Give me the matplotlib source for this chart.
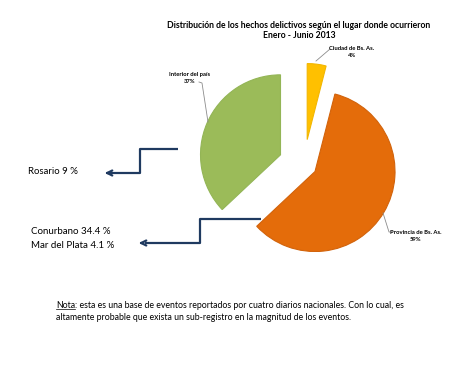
import matplotlib.pyplot as plt

# data
lugares = ['Ciudad de Bs. As.', 'Provincia de Bs. As.', 'Interior del país']
porcentajes = [4, 59, 37]
colores = ['#FFC000', '#E46C0A', '#9BBB59']
bordes = ['#F2B600', '#D2630B', '#93B556']
separacion = [0.32, 0.16, 0.32]

H = 367
R = 80
plt.rcParams['font.family'] = ['Lato', 'DejaVu Sans']

fig = plt.figure(figsize=(4.65, 3.67), dpi=100)
ax = fig.add_axes([0, 0, 1, 1])

# explode in matplotlib is in data units, so scale by the radius
wedges, _ = ax.pie(porcentajes, colors=colores, explode=[s * R for s in separacion],
                   startangle=90, counterclock=False, radius=R, center=(304, H - 165),
                   wedgeprops=dict(linewidth=0.8), frame=True)
for w, b in zip(wedges, bordes):
    w.set_edgecolor(b)
wedges[0].set_radius(R * 0.95)  # small slice looks a bit shorter in the original
ax.set_xlim(0, 465)
ax.set_ylim(0, H)
ax.set_aspect('auto')
ax.axis('off')

# title
ax.text(299, H - 25, 'Distribución de los hechos delictivos según el lugar donde ocurrieron',
        ha='center', va='center', fontsize=6.2, fontweight='bold')
ax.text(299, H - 36, 'Enero - Junio 2013', ha='center', va='center',
        fontsize=6.2, fontweight='bold')

# slice labels with leader lines
etiquetas = [f'{l}\n{p}%' for l, p in zip(lugares, porcentajes)]
pos_txt = [(352, H - 52), (416, H - 236), (190, H - 78)]
lineas = [([316, 330], [H - 61, H - 49]),
          ([383, 389, 392], [H - 213, H - 232, H - 232]),
          ([208, 202, 199], [H - 122, H - 83, H - 82])]
for t, (x, y), (lx, ly) in zip(etiquetas, pos_txt, lineas):
    ax.text(x, y, t, ha='center', va='center', fontsize=4.2, fontweight='bold',
            linespacing=1.5)
    ax.plot(lx, ly, color='#8C8C8C', lw=0.6)

# arrows
azul = '#1F3A60'
ax.plot([178, 140, 140, 110], [H - 149, H - 149, H - 173, H - 173], color=azul, lw=1.6,
        solid_capstyle='butt')
ax.annotate('', xy=(102, H - 173), xytext=(112, H - 173),
            arrowprops=dict(arrowstyle='->', color=azul, lw=1.6, mutation_scale=9))
ax.plot([261, 200, 200, 145], [H - 219, H - 219, H - 243, H - 243], color=azul, lw=1.6,
        solid_capstyle='butt')
ax.annotate('', xy=(136, H - 243), xytext=(146, H - 243),
            arrowprops=dict(arrowstyle='->', color=azul, lw=1.6, mutation_scale=9))

ax.text(28, H - 172, 'Rosario 9 %', ha='left', va='center', fontsize=6.9)
ax.text(31, H - 231, 'Conurbano 34.4 %', ha='left', va='center', fontsize=7)
ax.text(31, H - 245, 'Mar del Plata 4.1 %', ha='left', va='center', fontsize=7)

# note
nota = ax.text(56, H - 305, 'Nota', ha='left', va='center', fontsize=6.3)
fig.canvas.draw()
bb = nota.get_window_extent().transformed(ax.transData.inverted())
ax.text(bb.x1, H - 305, ': esta es una base de eventos reportados por cuatro diarios '
        'nacionales. Con lo cual, es', ha='left', va='center', fontsize=6.3)
ax.plot([bb.x0, bb.x1], [bb.y0 + 0.5, bb.y0 + 0.5], color='black', lw=0.5)
ax.text(56, H - 318, 'altamente probable que exista un sub-registro en la magnitud de '
        'los eventos.', ha='left', va='center', fontsize=6.3)

fig.savefig('out.png', dpi=100)
